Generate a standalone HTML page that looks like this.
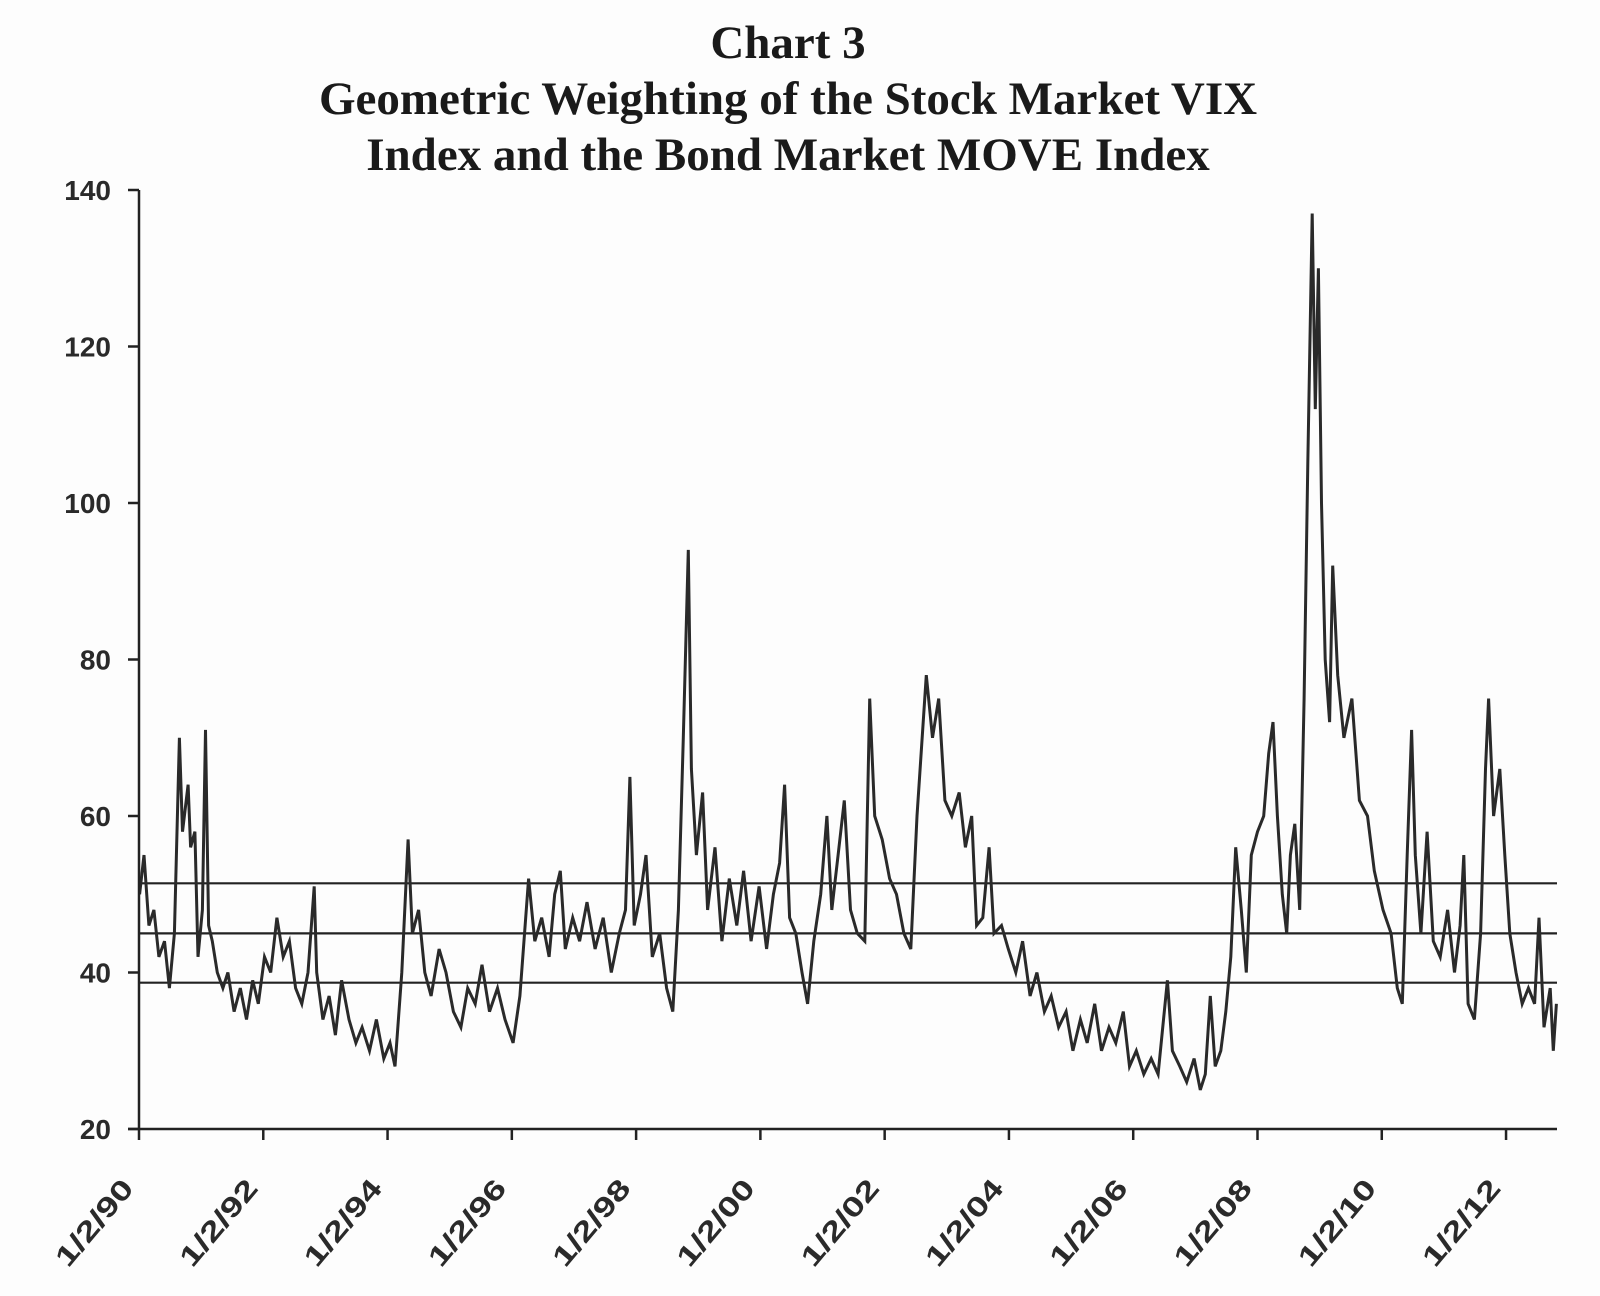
<!DOCTYPE html>
<html><head><meta charset="utf-8"><style>
html,body{margin:0;padding:0;background:#fdfdfd;}
svg{display:block;}
</style></head><body>
<svg id="chart" width="1600" height="1296" viewBox="0 0 1600 1296" xmlns="http://www.w3.org/2000/svg">
<g font-family="'Liberation Serif',serif" font-weight="bold" font-size="47" fill="#1a1a1a" text-anchor="middle">
<text x="788" y="58">Chart 3</text>
<text x="788" y="114">Geometric Weighting of the Stock Market VIX</text>
<text x="788" y="170">Index and the Bond Market MOVE Index</text>
</g>
<g id="plot"></g>
</svg>
<script>
const yTicks=[20,40,60,80,100,120,140];
const xTickYears=[1990,1992,1994,1996,1998,2000,2002,2004,2006,2008,2010,2012];
const xTickLabels=["1/2/90","1/2/92","1/2/94","1/2/96","1/2/98","1/2/00","1/2/02","1/2/04","1/2/06","1/2/08","1/2/10","1/2/12"];
const refLines=[51.4,45.0,38.7];
const dates=[1990.01,1990.08,1990.16,1990.24,1990.32,1990.41,1990.49,1990.57,1990.65,1990.70,1990.79,1990.83,1990.90,1990.95,1991.02,1991.07,1991.12,1991.18,1991.26,1991.35,1991.43,1991.53,1991.63,1991.73,1991.83,1991.92,1992.02,1992.12,1992.22,1992.32,1992.42,1992.52,1992.62,1992.72,1992.82,1992.86,1992.96,1993.06,1993.16,1993.26,1993.38,1993.49,1993.59,1993.71,1993.82,1993.94,1994.04,1994.12,1994.23,1994.33,1994.40,1994.50,1994.60,1994.70,1994.83,1994.94,1995.06,1995.18,1995.29,1995.41,1995.52,1995.64,1995.77,1995.89,1996.02,1996.13,1996.27,1996.37,1996.48,1996.60,1996.69,1996.78,1996.86,1996.98,1997.09,1997.21,1997.34,1997.47,1997.60,1997.73,1997.83,1997.90,1997.97,1998.07,1998.16,1998.26,1998.38,1998.49,1998.59,1998.68,1998.76,1998.84,1998.89,1998.97,1999.07,1999.15,1999.27,1999.38,1999.50,1999.62,1999.73,1999.85,1999.98,2000.10,2000.21,2000.31,2000.39,2000.47,2000.57,2000.67,2000.76,2000.86,2000.97,2001.07,2001.15,2001.25,2001.35,2001.45,2001.56,2001.68,2001.76,2001.84,2001.96,2002.08,2002.19,2002.31,2002.42,2002.52,2002.62,2002.67,2002.77,2002.87,2002.97,2003.08,2003.20,2003.30,2003.40,2003.48,2003.58,2003.68,2003.76,2003.88,2003.99,2004.11,2004.22,2004.34,2004.45,2004.57,2004.68,2004.80,2004.92,2005.03,2005.15,2005.26,2005.38,2005.49,2005.61,2005.72,2005.84,2005.94,2006.05,2006.17,2006.29,2006.40,2006.50,2006.55,2006.63,2006.75,2006.86,2006.98,2007.08,2007.16,2007.24,2007.32,2007.41,2007.49,2007.57,2007.65,2007.74,2007.82,2007.90,2008.00,2008.10,2008.18,2008.25,2008.32,2008.40,2008.47,2008.53,2008.60,2008.68,2008.75,2008.81,2008.88,2008.93,2008.98,2009.03,2009.09,2009.16,2009.21,2009.29,2009.39,2009.52,2009.64,2009.77,2009.88,2010.02,2010.15,2010.25,2010.33,2010.41,2010.48,2010.54,2010.63,2010.73,2010.83,2010.94,2011.06,2011.17,2011.26,2011.32,2011.39,2011.49,2011.59,2011.67,2011.72,2011.80,2011.90,2011.98,2012.06,2012.16,2012.26,2012.36,2012.46,2012.53,2012.61,2012.71,2012.76,2012.81];
const values=[50,55,46,48,42,44,38,45,70,58,64,56,58,42,48,71,46,44,40,38,40,35,38,34,39,36,42,40,47,42,44,38,36,40,51,40,34,37,32,39,34,31,33,30,34,29,31,28,40,57,45,48,40,37,43,40,35,33,38,36,41,35,38,34,31,37,52,44,47,42,50,53,43,47,44,49,43,47,40,45,48,65,46,50,55,42,45,38,35,48,70,94,66,55,63,48,56,44,52,46,53,44,51,43,50,54,64,47,45,40,36,44,50,60,48,55,62,48,45,44,75,60,57,52,50,45,43,60,72,78,70,75,62,60,63,56,60,46,47,56,45,46,43,40,44,37,40,35,37,33,35,30,34,31,36,30,33,31,35,28,30,27,29,27,35,39,30,28,26,29,25,27,37,28,30,35,42,56,48,40,55,58,60,68,72,60,50,45,55,59,48,75,105,137,112,130,100,80,72,92,78,70,75,62,60,53,48,45,38,36,55,71,55,45,58,44,42,48,40,46,55,36,34,45,66,75,60,66,55,45,40,36,38,36,47,33,38,30,36];

const X0=139,X1=1557,Y20=1129,Y140=190;
const Y0=1990,YEND=2012.82;
function xs(t){return X0+(t-Y0)/(YEND-Y0)*(X1-X0);}
function ys(v){return Y20-(v-20)/(140-20)*(Y20-Y140);}
const NS="http://www.w3.org/2000/svg";
const plot=document.getElementById('plot');
function mk(tag,attrs,parent){const e=document.createElementNS(NS,tag);for(const k in attrs)e.setAttribute(k,attrs[k]);(parent||plot).appendChild(e);return e;}

refLines.forEach((v,i)=>{
  const l=mk('line',{x1:X0,x2:X1,y1:ys(v),y2:ys(v),stroke:'#222','stroke-width':2.2});
  
  
});

let d='';
dates.forEach((t,i)=>{d+=(i?'L':'M')+xs(t).toFixed(1)+','+ys(values[i]).toFixed(1);});
const p=mk('path',{d:d,fill:'none',stroke:'#2a2a2a','stroke-width':3,'stroke-linejoin':'miter'});



const ya=mk('line',{x1:X0,x2:X0,y1:Y140,y2:Y20,stroke:'#222','stroke-width':2.5});


yTicks.forEach(v=>{
  const tk=mk('line',{x1:X0-11,x2:X0,y1:ys(v),y2:ys(v),stroke:'#222','stroke-width':2.5});
  
  
  const tx=mk('text',{x:X0-28,y:ys(v)+10,'text-anchor':'end','font-family':"'Liberation Sans',sans-serif",'font-weight':'bold','font-size':28,fill:'#2a2a2a'});
  tx.textContent=v;
  
  
});

const xa=mk('line',{x1:X0-11,x2:X1,y1:Y20,y2:Y20,stroke:'#222','stroke-width':2.5});


xTickYears.forEach((yr,i)=>{
  const x=xs(yr);
  const tk=mk('line',{x1:x,x2:x,y1:Y20,y2:Y20+11,stroke:'#222','stroke-width':2.5});
  
  
  const ax=x-4, ay=Y20+60;
  const tx=mk('text',{x:ax,y:ay,'text-anchor':'end','font-family':"'Liberation Sans',sans-serif",'font-weight':'bold','font-size':28,fill:'#2a2a2a',textLength:104,lengthAdjust:'spacingAndGlyphs',transform:'rotate(-50 '+ax+' '+ay+')'});
  tx.textContent=xTickLabels[i];
  
  
});
</script>
</body></html>
